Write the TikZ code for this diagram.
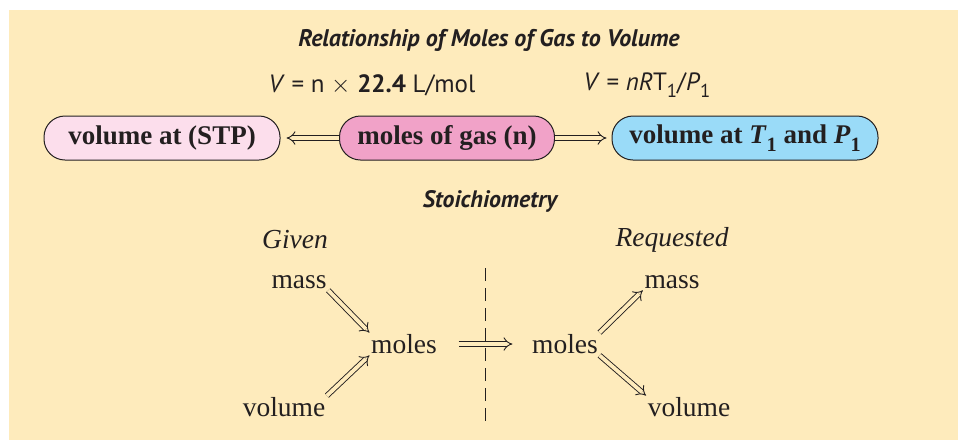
\documentclass[tikz,border=0pt]{standalone}
\usepackage{fontspec}
\usepackage{graphicx}
\setmainfont{Liberation Serif}
\newfontfamily\ptsans{PT Sans}
\usetikzlibrary{arrows.meta}
\definecolor{panel}{RGB}{254,235,188}
\definecolor{boxA}{RGB}{252,222,236}
\definecolor{boxB}{RGB}{241,162,200}
\definecolor{boxC}{RGB}{154,219,248}
\definecolor{ink}{RGB}{35,31,32}
\newcommand{\mysub}[1]{\raisebox{-0.3em}{\scalebox{0.75}{#1}}}
\tikzset{
  pill/.style={draw=ink, line width=1pt, rounded corners=21pt, minimum height=44pt, inner xsep=12pt,
    font=\fontsize{27}{30}\selectfont\bfseries, text=ink},
  serif/.style={font=\fontsize{27.5}{30}\selectfont, text=ink, inner sep=1.5pt},
  serifit/.style={font=\fontsize{27.5}{30}\selectfont\itshape, text=ink, inner sep=1pt},
  sanslab/.style={font=\ptsans\fontsize{25}{28}\selectfont, text=ink, inner sep=0pt},
  sanshead/.style={font=\ptsans\fontsize{24}{28}\selectfont\bfseries\itshape, text=ink, inner sep=0pt},
  dbl/.style={draw=ink, line width=0.9pt, double=panel, double distance=3.8pt, -{Implies}},
  dblsmall/.style={draw=ink, line width=0.9pt, double=panel, double distance=3.8pt, -{Implies}},
}
\begin{document}
\begin{tikzpicture}[x=1pt,y=-1pt]
\useasboundingbox (0,0) rectangle (958,440);
\fill[panel] (9,10) rectangle (958,440);
\node[sanshead] (title) at (489,40) {Relationship of Moles of Gas to Volume};
\node[sanslab] (eqa) at (372,85) {\textit{V} = n $\times$ \textbf{22.4} L/mol};
\node[sanslab] (eqb) at (647,85) {\textit{V} = \textit{nR}T\mysub{1}/\textit{P}\mysub{1}};
\node[pill, fill=boxA, minimum width=236pt] (stp) at (162,138) {volume at (STP)};
\node[pill, fill=boxB, minimum width=215pt] (mol) at (447,138) {moles of gas (n)};
\node[pill, fill=boxC, minimum width=266pt] (vtp) at (745,138) {volume at \textit{T}\mysub{1} and \textit{P}\mysub{1}};
\draw[dbl, shorten >=6pt] (mol.west) -- (stp.east);
\draw[dbl, shorten >=5pt] (mol.east) -- (vtp.west);
\node[sanshead, font=\ptsans\fontsize{23.8}{28}\selectfont\bfseries\itshape] (stoi) at (490,201) {Stoichiometry};
\node[serifit] (given) at (295,240) {Given};
\node[serifit] (req) at (672,240) {Requested};
\node[serif] (massL) at (299,282) {mass};
\node[serif] (molesL) at (404,344) {moles};
\node[serif] (volL) at (284,407) {volume};
\node[serif] (molesR) at (565,344) {moles};
\node[serif] (massR) at (672,282) {mass};
\node[serif] (volR) at (689,407) {volume};
\coordinate (dtop) at (485,268);
\coordinate (dbot) at (485,426);
\draw[ink, line width=1pt, dash pattern=on 13pt off 7pt] (dtop) -- (dbot);
\draw[dbl, shorten <=20pt, shorten >=18pt] (molesL.east) -- (molesR.west);
\draw[dblsmall] (massL.south east) -- (molesL.north west);
\draw[dblsmall] (volL.north east) -- (molesL.south west);
\draw[dblsmall] (molesR.north east) -- (massR.south west);
\draw[dblsmall] (molesR.south east) -- (volR.north west);
\end{tikzpicture}
\end{document}
